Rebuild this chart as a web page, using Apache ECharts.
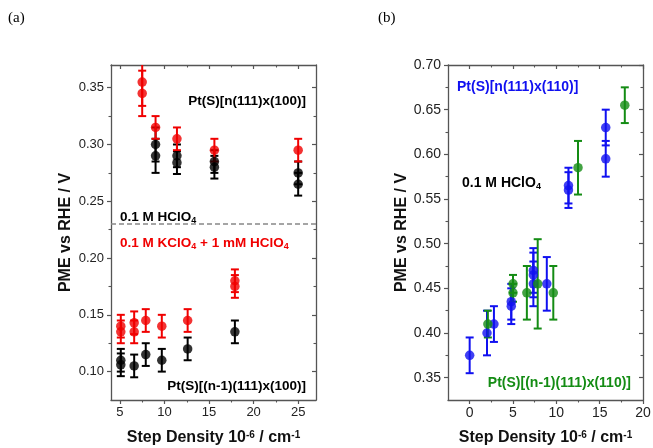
<!DOCTYPE html>
<html><head><meta charset="utf-8">
<script src="https://cdn.jsdelivr.net/npm/echarts@6/dist/echarts.min.js"></script>
<style>html,body{margin:0;padding:0;background:#fff}#c{width:653px;height:448px}</style>
</head><body><div id="c"></div>
<script>
// ---------- Panel (a): Pt(S)[n(111)x(100)] and Pt(S)[(n-1)(111)x(100)] ----------
const aHClO4X   = [9, 9, 11.4, 11.4, 15.6, 15.6, 25, 25, 5.1, 5.1, 6.6, 7.9, 9.7, 12.6, 17.9];
const aHClO4Y   = [0.300, 0.290, 0.290, 0.284, 0.285, 0.280, 0.275, 0.265, 0.110, 0.106, 0.105, 0.115, 0.110, 0.120, 0.135];
const aHClO4Err = [0.015, 0.015, 0.010, 0.010, 0.010, 0.010, 0.010, 0.010, 0.010, 0.010, 0.010, 0.010, 0.010, 0.010, 0.010];
const aKClO4X   = [7.5, 7.5, 9, 11.4, 15.6, 25, 5.1, 5.1, 6.6, 6.6, 7.9, 9.7, 12.6, 17.9, 17.9];
const aKClO4Y   = [0.355, 0.345, 0.315, 0.305, 0.295, 0.295, 0.140, 0.135, 0.143, 0.135, 0.145, 0.140, 0.145, 0.180, 0.175];
const aKClO4Err = [0.021, 0.020, 0.010, 0.010, 0.010, 0.010, 0.010, 0.010, 0.010, 0.010, 0.010, 0.010, 0.010, 0.010, 0.010];
const aRefLine  = 0.225;
const aXRange = [4, 27];
const aYRange = [0.075, 0.37];
const aXTicks = [5, 10, 15, 20, 25];
const aXMinor = [7.5, 12.5, 17.5, 22.5];
const aYTicks = [0.10, 0.15, 0.20, 0.25, 0.30, 0.35];
const aYMinor = [0.125, 0.175, 0.225, 0.275, 0.325];

// ---------- Panel (b): Pt(S)[n(111)x(110)] and Pt(S)[(n-1)(111)x(110)] ----------
const bN111X   = [0, 2.0, 2.8, 4.8, 4.8, 7.35, 7.35, 7.35, 8.9, 11.4, 11.4, 15.7, 15.7];
const bN111Y   = [0.375, 0.400, 0.410, 0.435, 0.430, 0.470, 0.465, 0.455, 0.455, 0.565, 0.560, 0.630, 0.595];
const bN111Err = [0.020, 0.025, 0.020, 0.020, 0.020, 0.025, 0.025, 0.025, 0.030, 0.020, 0.020, 0.020, 0.020];
const bN1X     = [2.1, 5.0, 5.0, 6.6, 7.85, 9.65, 12.5, 17.9];
const bN1Y     = [0.410, 0.455, 0.445, 0.445, 0.455, 0.445, 0.585, 0.655];
const bN1Err   = [0.015, 0.010, 0.010, 0.030, 0.050, 0.030, 0.030, 0.020];
const bXRange = [-2.5, 20];
const bYRange = [0.325, 0.70];
const bXTicks = [0, 5, 10, 15, 20];
const bXMinor = [2.5, 7.5, 12.5, 17.5];
const bYTicks = [0.35, 0.40, 0.45, 0.50, 0.55, 0.60, 0.65, 0.70];
const bYMinor = [0.375, 0.425, 0.475, 0.525, 0.575, 0.625, 0.675];

const SANS = 'Liberation Sans';
const AXC = '#555';
const RED = '#f00000', BLACK = '#000000', BLUE = '#1010f0', GREEN = '#148c14';

const xTitle = 'Step Density 10{sup|-6} / cm{sup|-1}';
const titleStyle = {
  fontFamily: SANS, fontSize: 16, fontWeight: 'bold', color: '#111',
  rich: { sup: { fontFamily: SANS, fontSize: 10, fontWeight: 'bold', color: '#111', verticalAlign: 'top' } }
};

function makeAxes(dim, grid, range, majors, minors, labelSize, fmt, name, nameGap) {
  const isX = dim === 'x';
  const base = { type: 'value', gridIndex: grid, min: range[0], max: range[1], splitLine: { show: false } };
  const sides = isX ? ['bottom', 'top'] : ['left', 'right'];
  const axes = [];
  sides.forEach((pos, si) => {
    const inside = si === 1;
    axes.push(Object.assign({}, base, {
      position: pos,
      axisLine: { show: true, onZero: false, lineStyle: { color: AXC, width: 1.3 } },
      axisTick: { show: true, inside: inside, length: 4, customValues: majors, lineStyle: { color: AXC, width: 1.2 } },
      axisLabel: si === 0 ? { show: true, customValues: majors, fontFamily: SANS, fontSize: labelSize, color: '#222', margin: isX ? 6 : 7, formatter: fmt } : { show: false },
      name: si === 0 ? name : '',
      nameLocation: 'middle', nameGap: nameGap, nameTextStyle: titleStyle
    }));
    axes.push(Object.assign({}, base, {
      position: pos,
      axisLine: { show: false, onZero: false },
      axisTick: { show: true, inside: inside, length: 2.5, customValues: minors, lineStyle: { color: AXC, width: 1.1 } },
      axisLabel: { show: false }
    }));
  });
  return axes;
}

function errSeries(xs, ys, es, color, ai) {
  return {
    type: 'custom', xAxisIndex: ai, yAxisIndex: ai, clip: true, silent: true,
    data: xs.map((x, i) => [x, ys[i] - es[i], ys[i] + es[i]]),
    encode: { x: 0, y: [1, 2] },
    renderItem: function (params, api) {
      const x = api.value(0);
      const lo = api.coord([x, api.value(1)]);
      const hi = api.coord([x, api.value(2)]);
      const hw = 4;
      const st = { stroke: color, lineWidth: 2 };
      return { type: 'group', children: [
        { type: 'line', shape: { x1: lo[0], y1: lo[1], x2: hi[0], y2: hi[1] }, style: st },
        { type: 'line', shape: { x1: lo[0] - hw, y1: lo[1], x2: lo[0] + hw, y2: lo[1] }, style: st },
        { type: 'line', shape: { x1: hi[0] - hw, y1: hi[1], x2: hi[0] + hw, y2: hi[1] }, style: st }
      ] };
    }
  };
}
function ptSeries(xs, ys, color, ai, extra) {
  return Object.assign({
    type: 'scatter', xAxisIndex: ai, yAxisIndex: ai, symbol: 'circle', symbolSize: 9.5,
    itemStyle: { color: color }, silent: true,
    data: xs.map((x, i) => [x, ys[i]])
  }, extra || {});
}

const f2 = v => v.toFixed(2);
const f0 = v => String(Math.round(v));

const xAxes = [].concat(
  makeAxes('x', 0, aXRange, aXTicks, aXMinor, 13, f0, xTitle, 30),
  makeAxes('x', 1, bXRange, bXTicks, bXMinor, 14, f0, xTitle, 30)
);
const yAxes = [].concat(
  makeAxes('y', 0, aYRange, aYTicks, aYMinor, 13, f2, 'PME vs RHE / V', 37),
  makeAxes('y', 1, bYRange, bYTicks, bYMinor, 14, f2, 'PME vs RHE / V', 34)
);

function txt(x, y, text, color, size, align, rich) {
  return {
    type: 'text', x: x, y: y, silent: true,
    style: {
      text: text, fill: color, fontFamily: SANS, fontSize: size, fontWeight: 'bold',
      font: 'bold ' + size + 'px "' + SANS + '"',
      align: align, textAlign: align, verticalAlign: 'middle', textVerticalAlign: 'middle',
      rich: rich || {}
    }
  };
}
function subRich(color, size) {
  return { sub: { fill: color, color: color, fontFamily: SANS, fontSize: size, fontWeight: 'bold',
    verticalAlign: 'bottom', padding: [8, 0, 0, 0] } };
}

const option = {
  animation: false,
  backgroundColor: '#fff',
  grid: [
    { left: 111, right: 337, top: 65, bottom: 48, outerBoundsMode: 'none', containLabel: false },
    { left: 448, right: 10, top: 65, bottom: 48, outerBoundsMode: 'none', containLabel: false }
  ],
  xAxis: xAxes,
  yAxis: yAxes,
  series: [
    errSeries(aHClO4X, aHClO4Y, aHClO4Err, BLACK, 0),
    ptSeries(aHClO4X, aHClO4Y, BLACK, 0, {
      markLine: { silent: true, symbol: 'none', label: { show: false },
        lineStyle: { color: '#888', type: [5, 3], width: 1.6 }, data: [{ yAxis: aRefLine }] }
    }),
    errSeries(aKClO4X, aKClO4Y, aKClO4Err, RED, 0),
    ptSeries(aKClO4X, aKClO4Y, RED, 0),
    errSeries(bN111X, bN111Y, bN111Err, BLUE, 4),
    ptSeries(bN111X, bN111Y, BLUE, 4),
    errSeries(bN1X, bN1Y, bN1Err, GREEN, 4),
    ptSeries(bN1X, bN1Y, GREEN, 4)
  ],
  graphic: [
    { type: 'text', x: 8, y: 18, silent: true, style: { text: '(a)', fill: '#000', font: '15px "Liberation Serif"', verticalAlign: 'middle', textVerticalAlign: 'middle' } },
    { type: 'text', x: 378, y: 18, silent: true, style: { text: '(b)', fill: '#000', font: '15px "Liberation Serif"', verticalAlign: 'middle', textVerticalAlign: 'middle' } },
    txt(306, 101, 'Pt(S)[n(111)x(100)]', BLACK, 13.5, 'right'),
    txt(120, 217, '0.1 M HClO{sub|4}', BLACK, 13.5, 'left', subRich(BLACK, 9)),
    txt(120, 243, '0.1 M KClO{sub|4} + 1 mM HClO{sub|4}', RED, 13.5, 'left', subRich(RED, 9)),
    txt(306, 386, 'Pt(S)[(n-1)(111)x(100)]', BLACK, 13.5, 'right'),
    txt(457, 87, 'Pt(S)[n(111)x(110)]', BLUE, 14, 'left'),
    txt(462, 183, '0.1 M HClO{sub|4}', BLACK, 14, 'left', subRich(BLACK, 9)),
    txt(631, 383, 'Pt(S)[(n-1)(111)x(110)]', GREEN, 14, 'right')
  ]
};

const chart = echarts.init(document.getElementById('c'), null, { renderer: 'canvas' });
chart.setOption(option);
</script>
</body></html>
